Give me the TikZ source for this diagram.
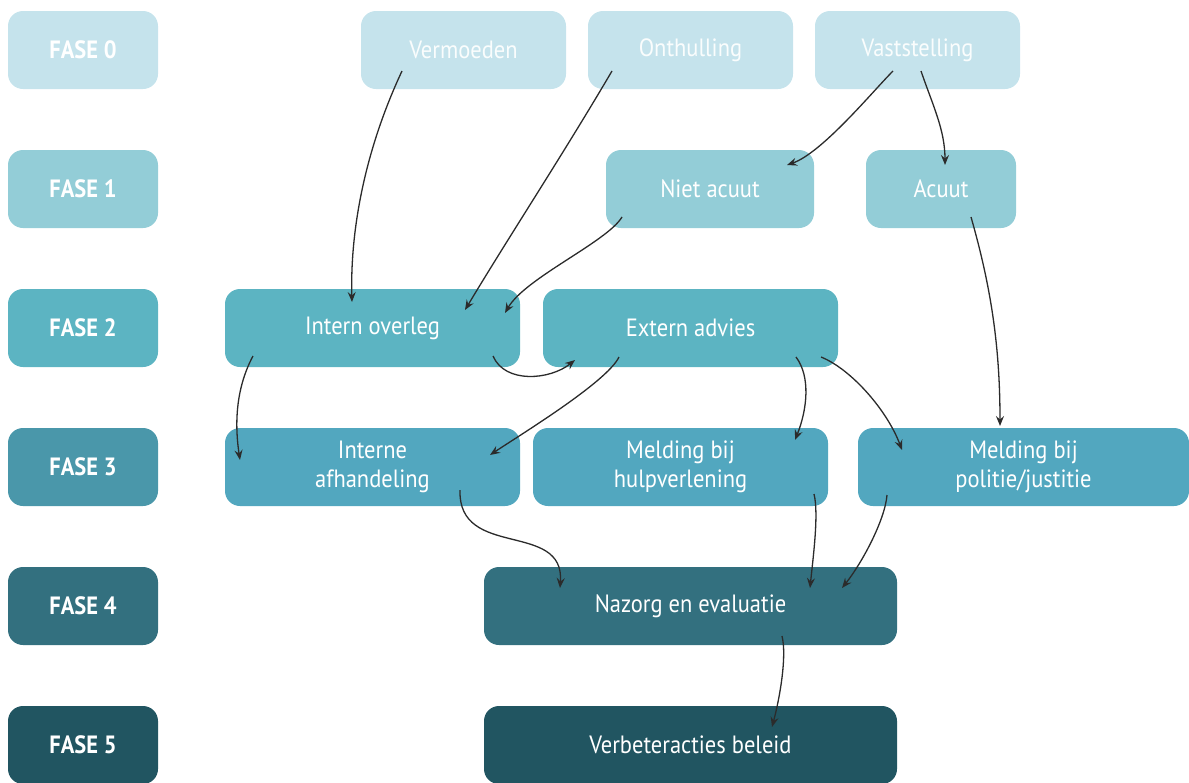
\documentclass[tikz,border=0pt]{standalone}
\usepackage{fontspec}
\setmainfont{PT Sans}[FakeStretch=0.9]
\usetikzlibrary{arrows.meta}
\definecolor{cf0}{HTML}{C5E3EC}
\definecolor{cf1}{HTML}{93CDD7}
\definecolor{cf2}{HTML}{5CB4C2}
\definecolor{cf3l}{HTML}{4A97AA}
\definecolor{cf3}{HTML}{52A7BF}
\definecolor{cf4}{HTML}{33707F}
\definecolor{cf5}{HTML}{215561}
\definecolor{arr}{HTML}{2B2B2B}
\tikzset{
  box/.style={rectangle, rounded corners=15pt, minimum height=78pt, inner sep=0pt, text=white, align=center,
    font=\fontsize{25}{29}\selectfont},
  fase/.style={box, minimum width=150pt, font=\fontsize{25}{29}\selectfont\bfseries},
  conn/.style={draw=arr, line width=1.3pt, -{Stealth[length=10pt,width=8pt,inset=3.5pt]}},
}
\begin{document}
\begin{tikzpicture}[x=1pt,y=-1pt]
\useasboundingbox (0,0) rectangle (1189,782);
% phase labels
\node[fase, fill=cf0] (f0) at (83,50) {FASE 0};
\node[fase, fill=cf1] (f1) at (83,189) {FASE 1};
\node[fase, fill=cf2] (f2) at (83,328) {FASE 2};
\node[fase, fill=cf3l] (f3) at (83,467) {FASE 3};
\node[fase, fill=cf4] (f4) at (83,606) {FASE 4};
\node[fase, fill=cf5] (f5) at (83,745) {FASE 5};
% row 0
\node[box, fill=cf0, minimum width=205pt, text=white!92!cf0] (verm) at (463.5,50) {Vermoeden};
\node[box, fill=cf0, minimum width=205pt, text=white!92!cf0] (onth) at (690.5,50) {Onthulling};
\node[box, fill=cf0, minimum width=205pt, text=white!92!cf0] (vast) at (917.5,50) {Vaststelling};
% row 1
\node[box, fill=cf1, minimum width=208pt] (niet) at (710,189) {Niet acuut};
\node[box, fill=cf1, minimum width=150pt] (acuut) at (941,189) {Acuut};
% row 2
\node[box, fill=cf2, minimum width=295pt] (io) at (372.5,328) {Intern overleg};
\node[box, fill=cf2, minimum width=295pt] (ea) at (690.5,328) {Extern advies};
% row 3
\node[box, fill=cf3, minimum width=295pt] (ia) at (372.5,467) {Interne\\afhandeling};
\node[box, fill=cf3, minimum width=295pt] (mh) at (680.5,467) {Melding bij\\hulpverlening};
\node[box, fill=cf3, minimum width=331pt] (mp) at (1023.5,467) {Melding bij\\politie/justitie};
% row 4, 5
\node[box, fill=cf4, minimum width=413pt] (nz) at (690.5,606) {Nazorg en evaluatie};
\node[box, fill=cf5, minimum width=413pt] (vb) at (690.5,745) {Verbeteracties beleid};
% connectors
\draw[conn] ([shift={(-61.5,21)}]verm.center) .. controls +(-37,79) and +(-2,-72) .. ([shift={(-20.5,-26)}]io.center);
\draw[conn] ([shift={(-78.5,21)}]onth.center) .. controls +(-50,85) and +(45,-75) .. ([shift={(92.5,-18)}]io.center);
\draw[conn] ([shift={(-88,28)}]niet.center) .. controls +(-15,25) and +(20,-35) .. ([shift={(132.5,-15)}]io.center);
\draw[conn] ([shift={(-24.5,21)}]vast.center) .. controls +(-20,20) and +(35,-12) .. ([shift={(77,-24)}]niet.center);
\draw[conn] ([shift={(3.5,21)}]vast.center) .. controls +(12,35) and +(0,-35) .. ([shift={(4,-24)}]acuut.center);
\draw[conn] ([shift={(30,28)}]acuut.center) .. controls +(20,70) and +(0,-80) .. ([shift={(-23.5,-41)}]mp.center);
\draw[conn] ([shift={(-119.5,28)}]io.center) .. controls +(-16,30) and +(-6,-40) .. ([shift={(-132.5,-7)}]ia.center);
\draw[conn] ([shift={(120.5,28)}]io.center) .. controls +(12,28) and +(-25,20) .. ([shift={(-115.5,32)}]ea.center);
\draw[conn] ([shift={(-71.5,29)}]ea.center) .. controls +(-12,25) and +(30,-20) .. ([shift={(117.5,-12)}]ia.center);
\draw[conn] ([shift={(105.5,29)}]ea.center) .. controls +(15,20) and +(12,-30) .. ([shift={(114.5,-27)}]mh.center);
\draw[conn] ([shift={(130.5,29)}]ea.center) .. controls +(30,12) and +(-15,-40) .. ([shift={(-121.5,-17)}]mp.center);
\draw[conn] ([shift={(87.5,23)}]ia.center) .. controls +(-2,70) and +(5,-68) .. ([shift={(-130.5,-18)}]nz.center);
\draw[conn] ([shift={(133.5,27)}]mh.center) .. controls +(5,20) and +(3,-30) .. ([shift={(119.5,-18)}]nz.center);
\draw[conn] ([shift={(-136.5,28)}]mp.center) .. controls +(-2,25) and +(20,-25) .. ([shift={(151.5,-18)}]nz.center);
\draw[conn] ([shift={(91.5,30)}]nz.center) .. controls +(5,20) and +(8,-30) .. ([shift={(81.5,-18)}]vb.center);
\end{tikzpicture}
\end{document}
